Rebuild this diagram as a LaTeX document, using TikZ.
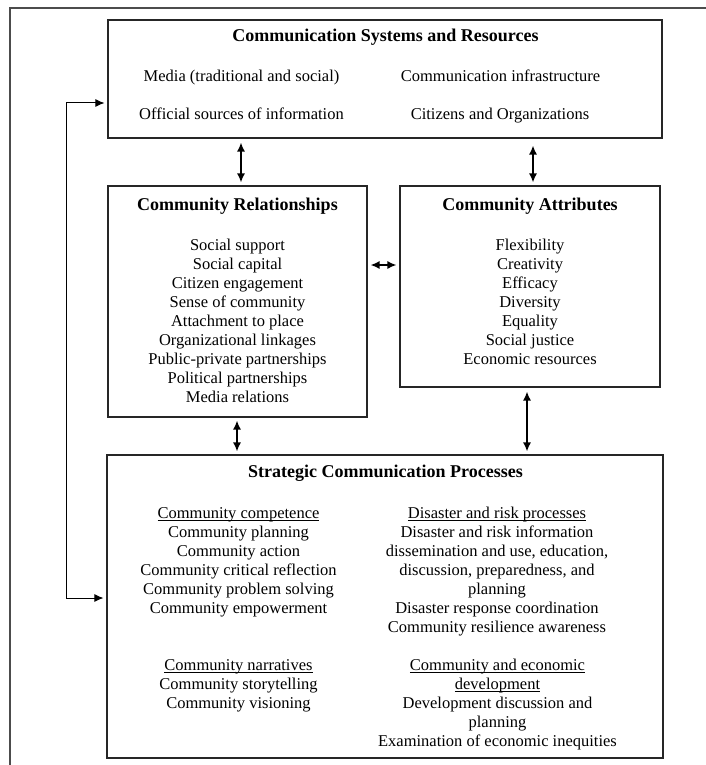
\documentclass[tikz,border=0pt]{standalone}
\usepackage{fontspec}
\setmainfont{Liberation Serif}
\usetikzlibrary{arrows.meta,calc}
\newcommand\myul[1]{\setbox0\hbox{#1}\rlap{\rule[-2.3pt]{\wd0}{0.8pt}}\box0}
\tikzset{
  box/.style={draw=black!85, line width=1.1pt, rectangle, inner sep=0pt},
  txt/.style={anchor=base, inner sep=0pt, font=\fontsize{16.5}{19}\selectfont},
  ttl/.style={anchor=base, inner sep=0pt, font=\fontsize{18}{21}\selectfont\bfseries},
  link/.style={line width=1.5pt, {Latex[length=9pt,width=8pt]}-{Latex[length=9pt,width=8pt]}},
  loop/.style={line width=1pt, {Latex[length=9pt,width=8pt]}-{Latex[length=9pt,width=8pt]}},
  frame/.style={draw=black!70, line width=1.2pt}
}
\begin{document}
\begin{tikzpicture}[x=1pt,y=-1pt]
\useasboundingbox (0,0) rectangle (706,765);
\draw[frame] (10,765) -- (10,8) -- (706,8);

% boxes
\node[box, minimum width=554, minimum height=118] (top) at (385,79) {};
\node[box, minimum width=259, minimum height=231] (rel) at (237.5,301.5) {};
\node[box, minimum width=260, minimum height=201] (attr) at (530,286.5) {};
\node[box, minimum width=556, minimum height=303] (proc) at (385,606.5) {};

% top box text
\node[ttl] (topT) at (385.5,42) {Communication Systems and Resources};
\node[txt] (topA) at (241.5,82) {Media (traditional and social)};
\node[txt] (topB) at (500.5,82) {Communication infrastructure};
\node[txt] (topC) at (241.5,120) {Official sources of information};
\node[txt] (topD) at (500,120) {Citizens and Organizations};

% relationships
\node[ttl] (relT) at (237.5,210) {Community Relationships};
\foreach \t [count=\i] in {Social support, Social capital, Citizen engagement, Sense of community, Attachment to place, Organizational linkages, Public-private partnerships, Political partnerships, Media relations}
  \node[txt] (rel\i) at (237.5,{250+19*(\i-1)}) {\t};

% attributes
\node[ttl] (attrT) at (530,210) {Community Attributes};
\foreach \t [count=\i] in {Flexibility, Creativity, Efficacy, Diversity, Equality, Social justice, Economic resources}
  \node[txt] (attr\i) at (530,{250+19*(\i-1)}) {\t};

% processes
\node[ttl] (procT) at (385.5,477) {Strategic Communication Processes};
\foreach \t [count=\i] in {\myul{Community competence}, Community planning, Community action, Community critical reflection, Community problem solving, Community empowerment}
  \node[txt] (pl\i) at (238.5,{518+19*(\i-1)}) {\t};
\foreach \t [count=\i] in {\myul{Community narratives}, Community storytelling, Community visioning}
  \node[txt] (pn\i) at (238.5,{670+19*(\i-1)}) {\t};
\foreach \t [count=\i] in {\myul{Disaster and risk processes}, Disaster and risk information, {dissemination and use, education,}, {discussion, preparedness, and}, planning, Disaster response coordination, Community resilience awareness}
  \node[txt] (pr\i) at (497,{518+19*(\i-1)}) {\t};
\foreach \t [count=\i] in {\myul{Community and economic}, \myul{development}, Development discussion and, planning, Examination of economic inequities}
  \node[txt] (pe\i) at (497.5,{670+19*(\i-1)}) {\t};

% connectors
\draw[link, shorten <=4pt, shorten >=3pt] (top.south -| 241,0) -- (rel.north -| 241,0);
\draw[link, shorten <=7pt, shorten >=3pt] (top.south -| 533,0) -- (attr.north -| 533,0);
\draw[link, shorten <=3pt, shorten >=3pt] (rel.east |- 0,265) -- (attr.west |- 0,265);
\draw[link, shorten <=3pt, shorten >=3pt] (rel.south -| 237,0) -- (proc.north -| 237,0);
\draw[link, shorten <=4pt, shorten >=3pt] (attr.south -| 527,0) -- (proc.north -| 527,0);

% feedback loop
\coordinate (fbx) at (66,0);
\coordinate (fbA) at (top.west |- 0,103);
\coordinate (fbB) at (proc.west |- 0,598);
\draw[loop, shorten <=3pt, shorten >=3pt] (fbA) -- (fbA -| fbx) -- (fbB -| fbx) -- (fbB);
\end{tikzpicture}
\end{document}
